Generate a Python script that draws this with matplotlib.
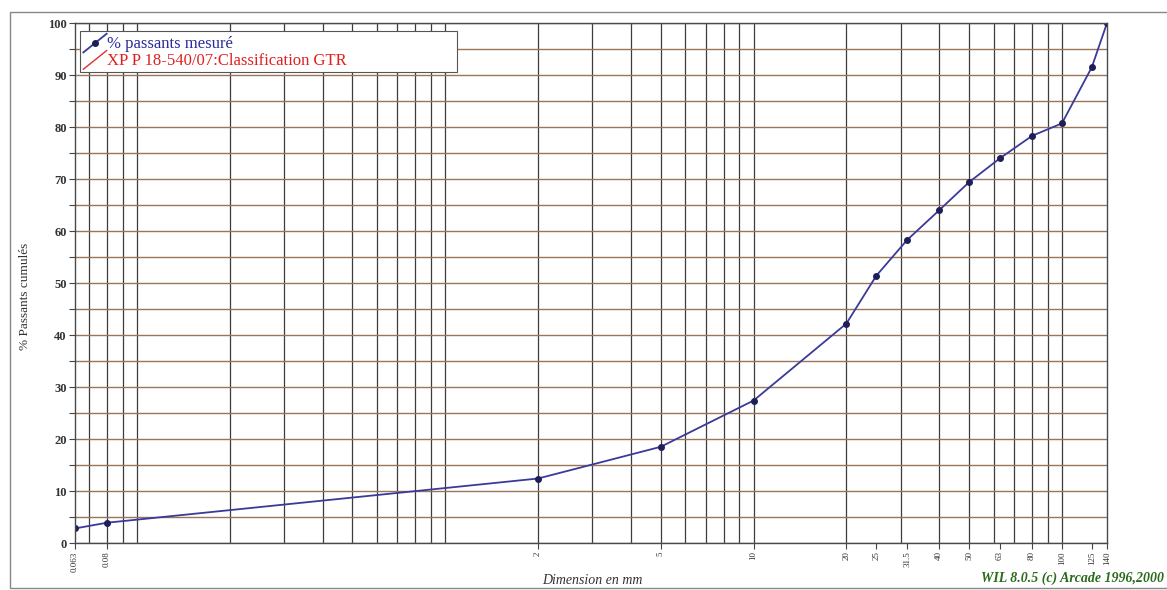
import matplotlib
matplotlib.use("Agg")
import matplotlib.pyplot as plt
from matplotlib.patches import Rectangle
from matplotlib.lines import Line2D
from matplotlib.legend_handler import HandlerBase
from matplotlib.ticker import NullFormatter

# Data
sieves = [0.063, 0.08, 2, 5, 10, 20, 25, 31.5, 40, 50, 63, 80, 100, 125, 140]
passing = [2.8, 3.9, 12.4, 18.5, 27.4, 42.2, 51.4, 58.3, 64.0, 69.4, 74.0, 78.3, 80.7, 91.5, 100.0]
sieve_labels = ["0.063", "0.08", "2", "5", "10", "20", "25", "31.5", "40", "50", "63", "80", "100", "125", "140"]
grid_x = [0.07, 0.08, 0.09, 0.1, 0.2, 0.3, 0.4, 0.5, 0.6, 0.7, 0.8, 0.9, 1,
          2, 3, 4, 5, 6, 7, 8, 9, 10, 20, 30, 40, 50, 60, 70, 80, 90, 100]
y_major = list(range(0, 101, 10))
y_minor = list(range(5, 100, 10))

serif = ["Liberation Serif", "DejaVu Serif"]
plt.rcParams["font.family"] = serif

W, H = 1167, 590


class DiagonalHandler(HandlerBase):
    def create_artists(self, legend, orig_handle, xdescent, ydescent, width, height,
                       fontsize, trans):
        x0, y0 = -xdescent, -ydescent - 0.35 * height
        x1, y1 = -xdescent + width, -ydescent + 1.25 * height
        ln = Line2D([x0, x1], [y0, y1], color=orig_handle.get_color(),
                    linewidth=orig_handle.get_linewidth(), transform=trans)
        arts = [ln]
        if orig_handle.get_marker() not in (None, "None", ""):
            mk = Line2D([(x0 + x1) / 2], [(y0 + y1) / 2], marker=orig_handle.get_marker(),
                        markersize=orig_handle.get_markersize(),
                        markerfacecolor=orig_handle.get_markerfacecolor(),
                        markeredgecolor=orig_handle.get_markeredgecolor(),
                        linestyle="None", transform=trans)
            arts.append(mk)
        return arts


fig = plt.figure(figsize=(W / 100, H / 100), dpi=100)
fig.patch.set_facecolor("white")
ax = fig.add_axes([75/W, 1-543/H, (1107-75)/W, (543-23)/H])

ax.set_xscale("log")
ax.set_xlim(0.063, 140)
ax.set_ylim(0, 100)
ax.xaxis.remove_overlapping_locs = False

# grid
ax.set_xticks(grid_x, minor=True)
ax.xaxis.set_minor_formatter(NullFormatter())
ax.set_xticks(sieves)
ax.set_xticklabels(sieve_labels, rotation=90, fontsize=6.5, color="#333333")
ax.set_yticks(y_major)
ax.set_yticks(y_minor, minor=True)
ax.set_yticklabels([str(v) for v in y_major], fontsize=9, fontweight="bold", color="#333333")
ax.grid(which="minor", axis="x", color="#3c3c3c", linewidth=0.9)
ax.grid(which="both", axis="y", color="#9a7658", linewidth=1.0)
ax.tick_params(axis="x", which="minor", length=0)
ax.tick_params(axis="x", which="major", length=4, width=0.8, color="#444444", pad=2)
ax.tick_params(axis="y", which="both", length=4, width=0.8, color="#444444", pad=2)
ax.set_axisbelow(True)
for s in ax.spines.values():
    s.set_color("#4a4a4a")
    s.set_linewidth(1.0)

line, = ax.plot(sieves, passing, color="#3a3a9a", linewidth=1.3, marker="o",
                markersize=4, markerfacecolor="#1e1e5a", markeredgecolor="#1e1e5a",
                label="% passants mesuré")
ref, = ax.plot([], [], color="#e03030", linewidth=1.0, label="XP P 18-540/07:Classification GTR")

# legend box (white, framed)
box = Rectangle((80/W, 1-72/H), (457-80)/W, (72-31)/H, transform=fig.transFigure,
                facecolor="white", edgecolor="#555555", linewidth=0.8, zorder=4.5,
                clip_on=False)
ax.add_artist(box)
leg = ax.legend(handles=[line, ref], loc="upper left", bbox_to_anchor=(5/1032, 1-10/520),
                fontsize=12, frameon=False,
                handlelength=1.4, handletextpad=0.05, borderpad=0.2, labelspacing=0.05,
                borderaxespad=0, handler_map={Line2D: DiagonalHandler()})
leg.set_zorder(5)
for t, c in zip(leg.get_texts(), ["#2a2a9a", "#e02020"]):
    t.set_color(c)

ax.set_ylabel("% Passants cumulés", fontsize=9.5, color="#333333")
ax.yaxis.set_label_coords(-0.043, 0.475)
fig.text(592/W, 1-580/H, "Dimension en mm", ha="center", va="center",
         fontsize=10, style="italic", color="#333333")
fig.text(1164/W, 1-578/H, "WIL 8.0.5 (c) Arcade 1996,2000", ha="right", va="center",
         fontsize=10, style="italic", fontweight="bold", color="#2a6a1a")

fig.patches.append(Rectangle((10/W, 1-588/H), 1.0, (588-12)/H,
                             transform=fig.transFigure, fill=False,
                             edgecolor="#888888", linewidth=1.0))

fig.savefig("out.png", dpi=100, facecolor="white")
